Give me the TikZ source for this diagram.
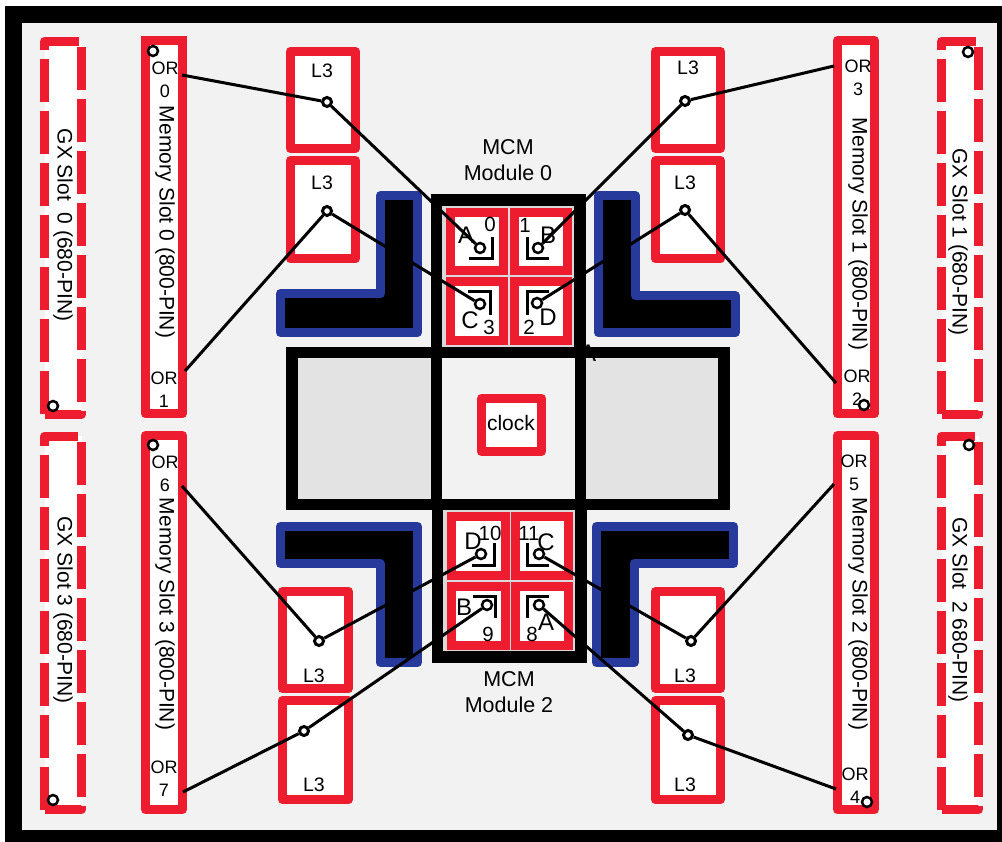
\documentclass[tikz,border=0pt]{standalone}
\usepackage{fontspec}
\setmainfont{Liberation Sans}
\definecolor{chipred}{HTML}{ED1C2E}
\definecolor{lblue}{HTML}{27399B}
\definecolor{pagegrey}{HTML}{F2F2F2}
\definecolor{midgrey}{HTML}{E3E3E3}
\definecolor{chipgrey}{HTML}{D9D9D9}
\newcommand{\gxbox}[4]{\draw[gxstyle] (#1,#4) -- (#1,#2) -- (#3,#2) -- (#3,#4) -- cycle;}
\newcommand{\lshape}[6]{\draw[lstyle] (#1,#2) -- (#3,#2) -- (#3,#4) -- (#5,#4) -- (#5,#6) -- (#1,#6) -- cycle;}
\begin{document}
\begin{tikzpicture}[x=1pt,y=-1pt,
  redbox/.style={draw=chipred,line width=9pt,line join=round,fill=white},
  chipbox/.style={draw=chipred,line width=9pt,line join=miter,fill=white},
  gxstyle/.style={draw=chipred,line width=9pt,line join=round,fill=white,dash pattern=on 43pt off 9pt},
  lstyle/.style={draw=lblue,line width=9pt,line join=round,fill=black},
  frame/.style={draw=black,line width=11.5pt,line join=miter},
  corner/.style={draw=black,line width=3pt},
  wire/.style={draw=black,line width=3pt},
  pin/.style={circle,draw=black,fill=white,line width=2.5pt,inner sep=0pt,minimum size=10pt},
  lpin/.style={circle,draw=black,fill=white,line width=3pt,inner sep=0pt,minimum size=9pt},
  lab/.style={inner sep=0pt,font=\fontsize{21.5}{26}\selectfont,align=center},
  clab/.style={inner sep=0pt,font=\fontsize{21}{24}\selectfont},
  l3lab/.style={inner sep=0pt,font=\fontsize{19.5}{23}\selectfont},
  orlab/.style={inner sep=0pt,font=\fontsize{18}{23}\selectfont,align=center},
  chipl/.style={inner sep=0pt,font=\fontsize{24}{24}\selectfont},
  chipn/.style={inner sep=0pt,font=\fontsize{20.5}{20}\selectfont},
  vlab/.style={inner sep=0pt,font=\fontsize{21}{22}\selectfont,rotate=-90}]
\useasboundingbox (0,0) rectangle (1002,842);
\fill[white] (0,0) rectangle (1002,842);
\fill[black] (5,6) rectangle (1002,842);
\fill[pagegrey] (22,23) rectangle (997,830);

% GX slots
\gxbox{44.5}{41.5}{81.5}{414.5}
\gxbox{44.5}{436}{81.5}{809.5}
\gxbox{941.5}{41.5}{978.5}{414.5}
\gxbox{941.5}{436}{978.5}{809.5}

% Memory slots
\draw[redbox] (145.5,40.5) rectangle (182.5,414);
\fill[chipred] (141,36) rectangle (187,45);
\draw[redbox] (145.5,435.5) rectangle (182.5,809.5);
\draw[redbox] (837.5,40.5) rectangle (874.5,414);
\draw[redbox] (837.5,435.5) rectangle (874.5,809.5);

% L3 caches
\draw[redbox] (290.5,51.5) rectangle (355.5,148.5);
\draw[redbox] (290.5,160.5) rectangle (355.5,259);
\draw[redbox] (655.5,51.5) rectangle (720.5,148.5);
\draw[redbox] (655.5,160.5) rectangle (720.5,259);
\draw[redbox] (282.5,591.5) rectangle (348.5,688.5);
\draw[redbox] (282.5,700.5) rectangle (348.5,799.5);
\draw[redbox] (655.5,591.5) rectangle (720.5,688.5);
\draw[redbox] (655.5,700.5) rectangle (720.5,799.5);

% blue-edged L shapes
\lshape{380.5}{195.5}{417.5}{332.5}{280.5}{293.5}
\lshape{635.5}{196}{598.5}{333}{735}{295.5}
\lshape{380}{662.5}{417.5}{526.5}{280.5}{563.5}
\lshape{634}{662.5}{596.5}{526.5}{733.5}{563.5}

% centre and MCM frames
\fill[midgrey] (292,353) rectangle (437,505);
\fill[midgrey] (580,353) rectangle (724,505);
\fill[chipgrey] (437,200) rectangle (580,353);
\fill[chipgrey] (437,505) rectangle (581,657);

% partly hidden letter
\node[chipl] (strayA) at (588,353) {A};

\draw[frame] (292,352.5) rectangle (724,504.5);
\draw[frame] (436.5,200) rectangle (580,504.5);
\draw[frame] (437.5,504.5) rectangle (581,657);
\fill[pagegrey] (442.5,358.5) rectangle (574.5,498.5);

% chips
\draw[chipbox] (450.5,212.5) rectangle (503.5,270.5);
\draw[chipbox] (514.5,212.5) rectangle (567.5,270.5);
\draw[chipbox] (450.5,281.5) rectangle (503.5,340.5);
\draw[chipbox] (514.5,281.5) rectangle (567.5,340.5);
\draw[chipbox] (451.5,516.5) rectangle (505,575.5);
\draw[chipbox] (515.5,516.5) rectangle (568.5,575.5);
\draw[chipbox] (451.5,586.5) rectangle (505,645.5);
\draw[chipbox] (515.5,586.5) rectangle (568.5,645.5);

% chip corner marks
\draw[corner] (469,259) -- (492,259) -- (492,237);
\draw[corner] (527,237) -- (527,259) -- (549,259);
\draw[corner] (468,292) -- (490,292) -- (490,315);
\draw[corner] (549,292) -- (527,292) -- (527,315);
\draw[corner] (472,565) -- (494,565) -- (494,543);
\draw[corner] (527,543) -- (527,565) -- (549,565);
\draw[corner] (473,596) -- (495,596) -- (495,618);
\draw[corner] (549,596) -- (527,596) -- (527,618);

% clock
\draw[redbox] (481.5,398.5) rectangle (541.5,451.5);
\node[clab] (clock) at (511,423) {clock};

% labels
\node[lab] (mcm0) at (508,160) {MCM\\Module 0};
\node[lab] (mcm2) at (509,692) {MCM\\Module 2};
\node[l3lab] (l3a) at (322,71) {L3};
\node[l3lab] (l3b) at (322,183) {L3};
\node[l3lab] (l3c) at (688,68) {L3};
\node[l3lab] (l3d) at (685,183) {L3};
\node[l3lab] (l3e) at (314,676) {L3};
\node[l3lab] (l3f) at (314,785) {L3};
\node[l3lab] (l3g) at (685,676) {L3};
\node[l3lab] (l3h) at (685,785) {L3};

\node[orlab] (or0) at (165,79.5) {OR\\0};
\node[orlab] (or1) at (164,390) {OR\\1};
\node[orlab] (or3) at (858,78) {OR\\3};
\node[orlab] (or2) at (857,387.5) {OR\\2};
\node[orlab] (or6) at (165,474) {OR\\6};
\node[orlab] (or7) at (164,778.5) {OR\\7};
\node[orlab] (or5) at (854,472.5) {OR\\5};
\node[orlab] (or4) at (855,786) {OR\\4};

\node[vlab] (ms0) at (165,222) {Memory Slot 0 (800-PIN)};
\node[vlab] (ms1) at (858,234) {Memory Slot 1 (800-PIN)};
\node[vlab] (ms3) at (165,614) {Memory Slot 3 (800-PIN)};
\node[vlab] (ms2) at (858,614) {Memory Slot 2 (800-PIN)};
\node[vlab] (gx0) at (63,225) {GX Slot~~0 (680-PIN)};
\node[vlab] (gx3) at (63,610) {GX Slot 3 (680-PIN)};
\node[vlab] (gx1) at (958,242) {GX Slot 1 (680-PIN)};
\node[vlab] (gx2) at (958,610) {GX Slot~~2 680-PIN)};

\node[chipl] (chA) at (466,235) {A};
\node[chipn] (n0) at (490,224) {0};
\node[chipl] (chB) at (548,235) {B};
\node[chipn] (n1) at (525,225) {1};
\node[chipl] (chC) at (470,320) {C};
\node[chipn] (n3) at (489,327) {3};
\node[chipl] (chD) at (548,317) {D};
\node[chipn] (n2) at (529,327) {2};
\node[chipl] (bhD) at (473,541) {D};
\node[chipn] (n10) at (490,533) {10};
\node[chipn] (n11) at (529,533) {11};
\node[chipl] (bhC) at (546,542) {C};
\node[chipl] (bhB) at (464,607) {B};
\node[chipn] (n9) at (488,634) {9};
\node[chipn] (n8) at (532,634) {8};
\node[chipl] (bhA) at (546,622) {A};

% pins
\node[lpin] (pL3a) at (327,102) {};
\node[lpin] (pL3b) at (327,211) {};
\node[lpin] (pL3c) at (685,101) {};
\node[lpin] (pL3d) at (685,210) {};
\node[lpin] (pL3e) at (319,641) {};
\node[lpin] (pL3f) at (304,731) {};
\node[lpin] (pL3g) at (691,641) {};
\node[lpin] (pL3h) at (688,735) {};
\node[pin] (pA) at (480,248) {};
\node[pin] (pB) at (538,248) {};
\node[pin] (pC) at (480,304) {};
\node[pin] (pD) at (537,303) {};
\node[pin] (qD) at (481,554) {};
\node[pin] (qC) at (539,554) {};
\node[pin] (qB) at (487,605) {};
\node[pin] (qA) at (539,605) {};
\node[pin] (s0) at (153,51) {};
\node[pin] (s1) at (53,406) {};
\node[pin] (s2) at (968,52) {};
\node[pin] (s3) at (864,405) {};
\node[pin] (s4) at (153,445) {};
\node[pin] (s5) at (53,800) {};
\node[pin] (s6) at (969,445) {};
\node[pin] (s7) at (867,802) {};

% connector free ends
\coordinate (e0) at (182,75);
\coordinate (e1) at (185,371);
\coordinate (e3) at (834,66);
\coordinate (e2) at (836,383);
\coordinate (e6) at (182,486);
\coordinate (e7) at (183,792);
\coordinate (e5) at (834,484);
\coordinate (e4) at (836,789);

\draw[wire] (e0) -- (pL3a) -- (pA);
\draw[wire] (e1) -- (pL3b) -- (pC);
\draw[wire] (e3) -- (pL3c) -- (pB);
\draw[wire] (e2) -- (pL3d) -- (pD);
\draw[wire] (e6) -- (pL3e) -- (qD);
\draw[wire] (e7) -- (pL3f) -- (qB);
\draw[wire] (e5) -- (pL3g) -- (qC);
\draw[wire] (e4) -- (pL3h) -- (qA);
\end{tikzpicture}
\end{document}
